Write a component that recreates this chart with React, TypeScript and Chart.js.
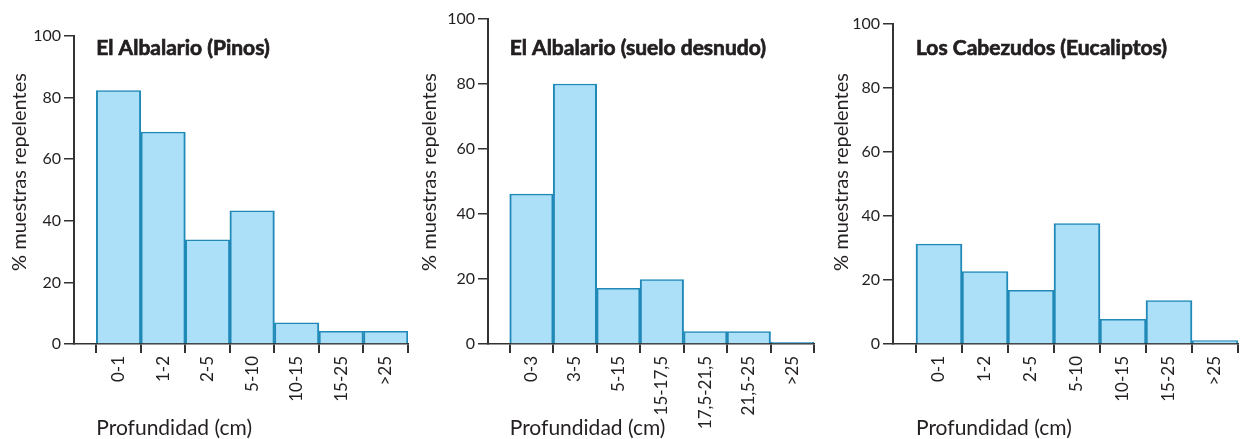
import React, { useEffect, useRef } from "react";
import { Chart, registerables } from "chart.js";

Chart.register(...registerables);

const yTicks = [0, 20, 40, 60, 80, 100];

const pinosCategories = ["0-1", "1-2", "2-5", "5-10", "10-15", "15-25", ">25"];
const pinosValues = [82.3, 68.8, 33.8, 43.2, 6.9, 4.1, 4.1];

const desnudoCategories = ["0-3", "3-5", "5-15", "15-17,5", "17,5-21,5", "21,5-25", ">25"];
const desnudoValues = [46.1, 80.0, 17.1, 19.8, 3.8, 3.8, 0.5];

const eucaliptosCategories = ["0-1", "1-2", "2-5", "5-10", "10-15", "15-25", ">25"];
const eucaliptosValues = [31.2, 22.6, 16.8, 37.6, 7.7, 13.6, 1.1];

const titles = ["El Albalario (Pinos)", "El Albalario (suelo desnudo)", "Los Cabezudos (Eucaliptos)"];
const yTitle = "% muestras repelentes";
const xTitle = "Profundidad (cm)";

const FONT = "Lato, 'Open Sans', sans-serif";
const TEXT = "#231f20";

type PanelProps = {
  categories: string[];
  values: number[];
  title: string;
  left: number;
  width: number;
  axisX: number;
  top: number;
  padRight: number;
};

function Panel({ categories, values, title, left, width, axisX, top, padRight }: PanelProps) {
  const ref = useRef<HTMLCanvasElement | null>(null);
  useEffect(() => {
    if (!ref.current) return;
    const textPlugin = {
      id: "panelText",
      afterDraw(chart: any) {
        const ctx = chart.ctx;
        const xs = chart.scales.x;
        const x0 = xs.getPixelForValue(-0.5);
        ctx.save();
        ctx.fillStyle = TEXT;
        ctx.strokeStyle = TEXT;
        ctx.textAlign = "left";
        ctx.textBaseline = "middle";
        ctx.font = `bold 21px ${FONT}`;
        ctx.lineWidth = 0.7;
        ctx.fillText(title, x0, 48);
        ctx.strokeText(title, x0, 48);
        ctx.font = `21px ${FONT}`;
        ctx.fillText(xTitle, x0, 428);
        ctx.translate(20, 172);
        ctx.rotate(-Math.PI / 2);
        ctx.textAlign = "center";
        ctx.font = `20px ${FONT}`;
        ctx.fillText(yTitle, 0, 0);
        ctx.restore();
      },
    };
    const chart = new Chart(ref.current, {
      type: "bar",
      data: {
        datasets: [
          {
            data: values.map((v, i) => ({ x: i, y: v })),
            backgroundColor: "#ace0f8",
            borderColor: "#2189b8",
            borderWidth: { left: 2, right: 2, top: 1.5, bottom: 0 },
            borderSkipped: false,
            barPercentage: 1,
            categoryPercentage: 1,
          },
        ],
      },
      options: {
        animation: false,
        responsive: false,
        devicePixelRatio: 1,
        layout: { padding: { top, right: padRight, left: 0, bottom: 0 } },
        plugins: { legend: { display: false }, tooltip: { enabled: false }, title: { display: false } },
        scales: {
          x: {
            type: "linear",
            min: -1,
            max: 6.5,
            offset: false,
            afterBuildTicks: (s: any) => {
              s.ticks = categories.map((_, i) => ({ value: i }));
            },
            afterFit: (s: any) => {
              s.height = 95;
            },
            ticks: {
              autoSkip: false,
              minRotation: 90,
              maxRotation: 90,
              padding: 3,
              color: TEXT,
              font: { family: FONT, size: 17 },
              callback: (v: any) => categories[v as number] ?? "",
            },
            grid: { drawOnChartArea: false, drawTicks: true, tickLength: 9, color: "#333", lineWidth: 2 },
            border: { display: true, color: "#333", width: 1.5 },
          },
          y: {
            min: 0,
            max: 100,
            afterBuildTicks: (s: any) => {
              s.ticks = yTicks.map((v) => ({ value: v }));
            },
            afterFit: (s: any) => {
              s.width = axisX;
            },
            ticks: {
              padding: 3,
              color: TEXT,
              font: { family: FONT, size: 16 },
            },
            title: { display: false },
            grid: { drawOnChartArea: false, drawTicks: true, tickLength: 10, color: "#333", lineWidth: 1.5 },
            border: { display: true, color: "#333", width: 2 },
          },
        },
      },
      plugins: [textPlugin],
    } as any);
    return () => chart.destroy();
  }, []);
  return (
    <canvas
      ref={ref}
      width={width}
      height={439}
      style={{ position: "absolute", left, top: 0, width, height: 439 }}
    />
  );
}

export default function App() {
  return (
    <div style={{ position: "absolute", left: 0, top: 0, width: 1242, height: 439, background: "#fff", overflow: "hidden" }}>
      <Panel categories={pinosCategories} values={pinosValues} title={titles[0]} left={0} width={410} axisX={74} top={36} padRight={2} />
      <Panel categories={desnudoCategories} values={desnudoValues} title={titles[1]} left={410} width={412} axisX={78} top={19} padRight={8} />
      <Panel categories={eucaliptosCategories} values={eucaliptosValues} title={titles[2]} left={822} width={420} axisX={71} top={24} padRight={4} />
    </div>
  );
}
